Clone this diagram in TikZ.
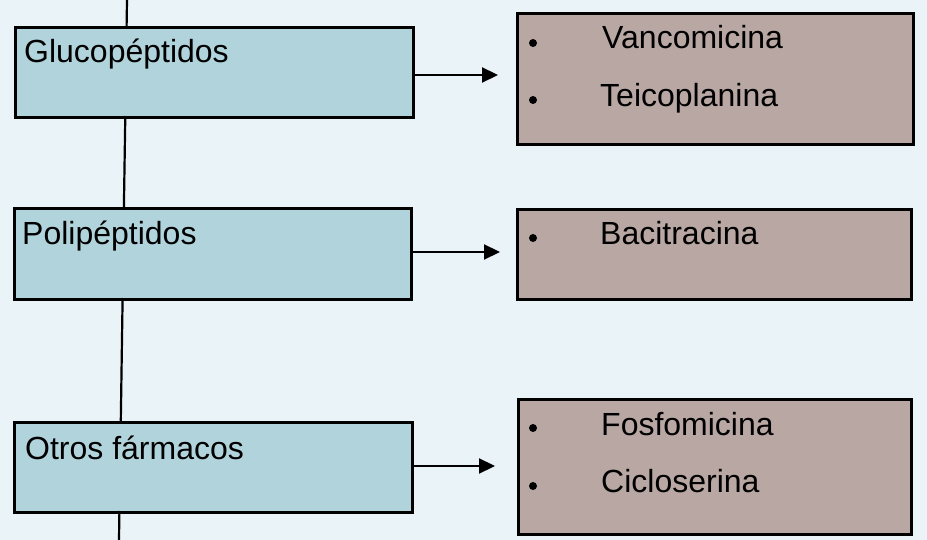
\documentclass[tikz,border=0pt]{standalone}
\usepackage{fontspec}
\setmainfont{Liberation Sans}
\usetikzlibrary{arrows.meta,calc}
\definecolor{pagebg}{RGB}{234,243,247}
\definecolor{groupfill}{RGB}{177,212,220}
\definecolor{drugfill}{RGB}{184,167,163}
\begin{document}
\begin{tikzpicture}[x=1pt,y=-1pt,
  groupbox/.style={draw=black,line width=3pt,fill=groupfill,inner sep=0pt,anchor=north west},
  drugbox/.style={draw=black,line width=2.8pt,fill=drugfill,inner sep=0pt,anchor=north west},
  txt/.style={inner sep=0pt,anchor=base west,font=\fontsize{32}{38}\selectfont},
  dot/.style={circle,fill=black,inner sep=0pt,minimum size=8pt},
  spine/.style={line width=2.2pt},
  link/.style={line width=2.2pt,-{Triangle[length=16pt,width=15pt]}}]
  % canvas
  \fill[pagebg] (0,0) rectangle (927,540);
  \useasboundingbox (0,0) rectangle (927,540);

  % drug groups (left column)
  \node[groupbox,minimum width=398pt,minimum height=90pt] (glu) at (14,26) {};
  \node[groupbox,minimum width=397pt,minimum height=91pt] (pol) at (13,207) {};
  \node[groupbox,minimum width=398pt,minimum height=90pt] (otr) at (13,421) {};
  \node[txt] (glut) at (24,63) {Glucopéptidos};
  \node[txt] (polt) at (22,245) {Polipéptidos};
  \node[txt] (otrt) at (25,459) {Otros fármacos};

  % drugs of each group (right column)
  \node[drugbox,minimum width=396pt,minimum height=131pt] (d1) at (516,12) {};
  \node[drugbox,minimum width=394pt,minimum height=90pt] (d2) at (516,208) {};
  \node[drugbox,minimum width=393pt,minimum height=135pt] (d3) at (517,398) {};
  \node[dot] (b1) at (533,43) {};
  \node[dot] (b2) at (533,100) {};
  \node[dot] (b3) at (533,238) {};
  \node[dot] (b4) at (533,428) {};
  \node[dot] (b5) at (533,486) {};
  \node[txt] (v1) at (602,49) {Vancomicina};
  \node[txt] (v2) at (600,107) {Teicoplanina};
  \node[txt] (v3) at (600,245) {Bacitracina};
  \node[txt] (v4) at (601,435) {Fosfomicina};
  \node[txt] (v5) at (601,492) {Cicloserina};

  % slightly slanted spine linking the groups
  \coordinate (s0) at (127,0);
  \coordinate (s1) at (126.6,26);
  \coordinate (s2) at (125.3,116);
  \coordinate (s3) at (123.9,207);
  \coordinate (s4) at (122.6,298);
  \coordinate (s5) at (120.8,421);
  \coordinate (s6) at (119.4,511);
  \coordinate (s7) at (119,540);
  \draw[spine] (s0) -- (s1);
  \draw[spine] (s2) -- (s3);
  \draw[spine] (s4) -- (s5);
  \draw[spine] (s6) -- (s7);

  % arrows from each group to its drugs
  \coordinate (a1) at (0,75);
  \coordinate (a2) at (0,252);
  \coordinate (a3) at (0,466);
  \draw[link,shorten >=18pt] (glu.east |- a1) -- (d1.west |- a1);
  \draw[link,shorten >=16pt] (pol.east |- a2) -- (d2.west |- a2);
  \draw[link,shorten >=22pt] (otr.east |- a3) -- (d3.west |- a3);
\end{tikzpicture}
\end{document}
